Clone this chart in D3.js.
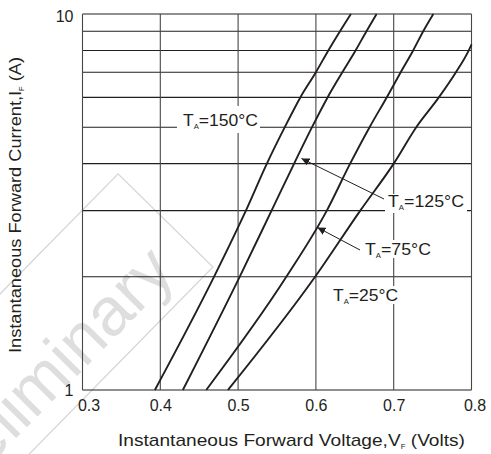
<!DOCTYPE html>
<html><head><meta charset="utf-8">
<script src="https://cdn.jsdelivr.net/npm/d3@7"></script>
<style>body{margin:0;background:#fff} svg{display:block;font-family:"Liberation Sans",Arial,sans-serif}</style>
</head><body>
<script>
// ---- data ----
const xTicks = [0.3, 0.4, 0.5, 0.6, 0.7, 0.8];
const yGridValues = [1, 2, 3, 4, 5, 6, 7, 8, 9, 10];
const yTickLabels = [1, 10];
const current = [1, 2, 3, 4, 5, 6, 7, 8, 9, 10];
const vf150 = [0.393, 0.469, 0.510, 0.537, 0.560, 0.580, 0.600, 0.616, 0.631, 0.645];
const vf125 = [0.429, 0.502, 0.543, 0.572, 0.595, 0.615, 0.634, 0.651, 0.665, 0.678];
const vf75  = [0.459, 0.562, 0.614, 0.644, 0.669, 0.691, 0.709, 0.725, 0.738, 0.751];
const current25 = [1, 2, 3, 4, 5, 6, 7, 8, 8.3];
const vf25  = [0.487, 0.599, 0.657, 0.700, 0.729, 0.758, 0.780, 0.7965, 0.800];
const seriesTemps = ["150°C", "125°C", "75°C", "25°C"];

const W = 491, H = 454;
const x = d3.scaleLinear().domain([0.3, 0.8]).range([82.5, 471.5]);
const y = d3.scaleLog().domain([1, 10]).range([390, 14]);
const ink = "#231f20";

const svg = d3.select("body").append("svg").attr("width", W).attr("height", H);

// ---- watermark (beneath everything) ----
const wm = svg.append("g").attr("transform", "translate(165.5,220.5) rotate(-45.5)");
wm.append("rect").attr("x", -700).attr("y", -66.5).attr("width", 700).attr("height", 133)
  .attr("fill", "none").attr("stroke", "#d6d6d6").attr("stroke-width", 1.3);
wm.append("text").attr("x", -30).attr("y", 46).attr("text-anchor", "end")
  .attr("font-size", 68).attr("fill", "#dedede").text("Preliminary");

// ---- grid ----
const grid = svg.append("g");
grid.selectAll("line.h").data(yGridValues).join("line").attr("class", "h")
  .attr("x1", x(0.3)).attr("x2", x(0.8)).attr("y1", d => y(d)).attr("y2", d => y(d))
  .attr("stroke", ink).attr("stroke-width", 1.1);
grid.selectAll("line.v").data(xTicks).join("line").attr("class", "v")
  .attr("x1", d => x(d)).attr("x2", d => x(d)).attr("y1", y(1)).attr("y2", y(10))
  .attr("stroke", "#4a4546").attr("stroke-width", 1.1);

// ---- axes ----
const xAxis = svg.append("g").attr("transform", `translate(0,${y(1)})`)
  .call(d3.axisBottom(x).tickValues(xTicks).tickSize(0).tickPadding(10).tickFormat(d3.format(".1f")));
const yAxis = svg.append("g").attr("transform", `translate(${x(0.3)},0)`)
  .call(d3.axisLeft(y).tickValues(yTickLabels).tickSize(0).tickPadding(9).tickFormat(d3.format("d")));
[xAxis, yAxis].forEach(a => {
  a.select(".domain").remove();
  a.selectAll("text").attr("font-size", 16).attr("fill", ink).attr("font-family", "Liberation Sans, Arial, sans-serif");
});
xAxis.selectAll("text").filter(d => d === 0.3).attr("dx", 6);
xAxis.selectAll("text").filter(d => d === 0.8).attr("dx", 3);
yAxis.selectAll("text").filter(d => d === 10).attr("dy", "0.45em");

// ---- curves ----
const line = d3.line().x(d => x(d[0])).y(d => y(d[1])).curve(d3.curveMonotoneX);
const series = [
  d3.zip(vf150, current),
  d3.zip(vf125, current),
  d3.zip(vf75, current),
  d3.zip(vf25, current25)
];
svg.append("g").selectAll("path").data(series).join("path")
  .attr("d", line).attr("fill", "none").attr("stroke", ink).attr("stroke-width", 1.9);

// ---- labels ----
svg.append("defs").append("marker").attr("id", "ah").attr("viewBox", "0 0 10 10")
  .attr("refX", 10).attr("refY", 5).attr("markerWidth", 8).attr("markerHeight", 8)
  .attr("markerUnits", "userSpaceOnUse").attr("orient", "auto")
  .append("path").attr("d", "M0,0 L10,5 L0,10 z").attr("fill", ink);

function tLabel(g, px, py, temp, len) {
  const t = g.append("text").attr("x", px).attr("y", py).attr("font-size", 16).attr("fill", ink)
    .attr("textLength", len).attr("lengthAdjust", "spacingAndGlyphs");
  t.append("tspan").text("T");
  t.append("tspan").attr("font-size", 7).attr("dy", 3).text("A");
  t.append("tspan").attr("dy", -3).text("=" + temp);
  return t;
}
const lab = svg.append("g");
// white backgrounds interrupting grid
const bgs = [[177, 106, 83, 27], [385, 194, 82, 19], [362, 240, 72, 18], [330, 286, 71, 18]];
lab.selectAll("rect").data(bgs).join("rect")
  .attr("x", d => d[0]).attr("y", d => d[1]).attr("width", d => d[2]).attr("height", d => d[3]).attr("fill", "#fff");
tLabel(lab, 183, 126, seriesTemps[0], 75);
tLabel(lab, 388, 207, seriesTemps[1], 76);
tLabel(lab, 365, 255, seriesTemps[2], 66);
tLabel(lab, 333, 300.5, seriesTemps[3], 65);
lab.append("line").attr("x1", 384).attr("y1", 199).attr("x2", 301.5).attr("y2", 158.5)
  .attr("stroke", ink).attr("stroke-width", 1).attr("marker-end", "url(#ah)");
lab.append("line").attr("x1", 360).attr("y1", 250).attr("x2", 317.5).attr("y2", 227.5)
  .attr("stroke", ink).attr("stroke-width", 1).attr("marker-end", "url(#ah)");

// ---- axis titles ----
const xt = svg.append("text").attr("x", 118).attr("y", 446).attr("font-size", 17).attr("fill", ink)
  .attr("textLength", 347).attr("lengthAdjust", "spacingAndGlyphs");
xt.append("tspan").text("Instantaneous Forward Voltage,V");
xt.append("tspan").attr("font-size", 7).attr("dy", 3).text("F");
xt.append("tspan").attr("dy", -3).text(" (Volts)");

const yt = svg.append("text").attr("transform", "translate(21,353) rotate(-90)")
  .attr("x", 0).attr("y", 0).attr("font-size", 17).attr("fill", ink)
  .attr("textLength", 296).attr("lengthAdjust", "spacingAndGlyphs");
yt.append("tspan").text("Instantaneous Forward Current,I");
yt.append("tspan").attr("font-size", 7).attr("dy", 3).text("F");
yt.append("tspan").attr("dy", -3).text(" (A)");
</script>
</body></html>
